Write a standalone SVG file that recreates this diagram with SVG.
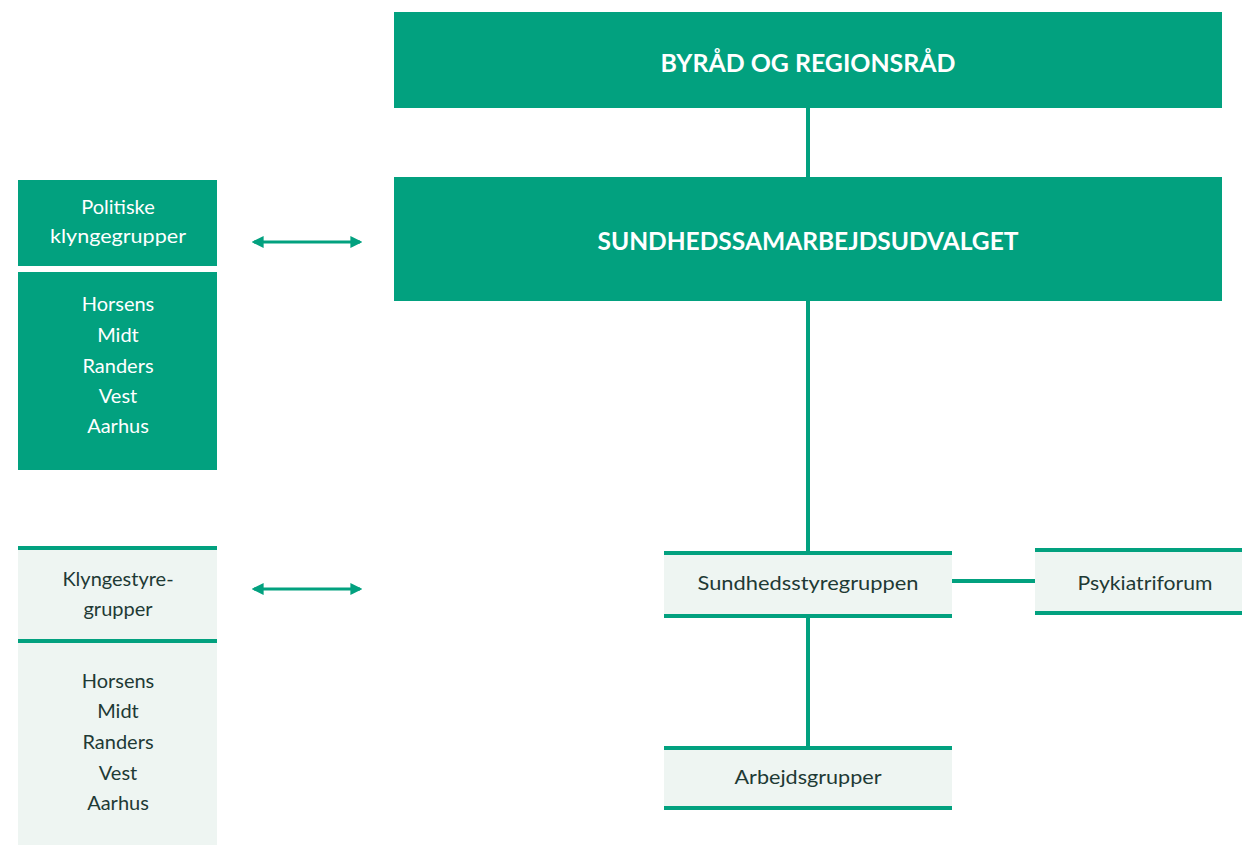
<svg xmlns="http://www.w3.org/2000/svg" width="1242" height="845" viewBox="0 0 1242 845">
<style>
.dark{fill:#02a17f}
.light{fill:#eef5f2}
.bar{fill:#02a17f}
.wt{fill:#ffffff;font-family:Lato,"Open Sans",sans-serif;text-anchor:middle}
.dt{fill:#1e3a35;font-family:Lato,"Open Sans",sans-serif;text-anchor:middle}
.title{font-size:25px;font-weight:bold}
.lbl{font-size:20px}
.conn{stroke:#02a17f;stroke-width:4;fill:none}
.arr{stroke:#02a17f;stroke-width:3;fill:none}
</style>
<defs>
<marker id="ah" viewBox="0 0 10 10" refX="8" refY="5" markerWidth="4" markerHeight="4" orient="auto-start-reverse">
<path d="M0,0 L10,5 L0,10 Z" fill="#02a17f"/>
</marker>
</defs>
<g id="connectors">
<line class="conn" x1="808" y1="108" x2="808" y2="177"/>
<line class="conn" x1="808" y1="301" x2="808" y2="553"/>
<line class="conn" x1="808" y1="616" x2="808" y2="748"/>
<line class="conn" x1="952" y1="581" x2="1035" y2="581"/>
<line class="arr" x1="254" y1="242" x2="360" y2="242" marker-start="url(#ah)" marker-end="url(#ah)"/>
<line class="arr" x1="254" y1="589" x2="360" y2="589" marker-start="url(#ah)" marker-end="url(#ah)"/>
</g>
<g id="byraad">
<rect class="dark" x="394" y="12" width="828" height="96"/>
<text class="wt title" x="808" y="72" textLength="295" lengthAdjust="spacingAndGlyphs">BYRÅD OG REGIONSRÅD</text>
</g>
<g id="sundhedssamarbejdsudvalget">
<rect class="dark" x="394" y="177" width="828" height="124"/>
<text class="wt title" x="808" y="250" textLength="421" lengthAdjust="spacingAndGlyphs">SUNDHEDSSAMARBEJDSUDVALGET</text>
</g>
<g id="politiske">
<rect class="dark" x="18" y="180" width="199" height="86"/>
<text class="wt lbl" x="118" y="214">Politiske</text>
<text class="wt lbl" x="118" y="243" textLength="136" lengthAdjust="spacingAndGlyphs">klyngegrupper</text>
</g>
<g id="politiske-list">
<rect class="dark" x="18" y="272" width="199" height="198"/>
<text class="wt lbl" x="118" y="311">Horsens</text>
<text class="wt lbl" x="118" y="342">Midt</text>
<text class="wt lbl" x="118" y="373">Randers</text>
<text class="wt lbl" x="118" y="403">Vest</text>
<text class="wt lbl" x="118" y="433">Aarhus</text>
</g>
<g id="klyngestyregrupper">
<rect class="light" x="18" y="547" width="199" height="298"/>
<rect class="bar" x="18" y="546" width="199" height="4"/>
<rect class="bar" x="18" y="639" width="199" height="4"/>
<text class="dt lbl" x="118" y="586">Klyngestyre-</text>
<text class="dt lbl" x="118" y="616">grupper</text>
<text class="dt lbl" x="118" y="688">Horsens</text>
<text class="dt lbl" x="118" y="718">Midt</text>
<text class="dt lbl" x="118" y="749">Randers</text>
<text class="dt lbl" x="118" y="780">Vest</text>
<text class="dt lbl" x="118" y="810">Aarhus</text>
</g>
<g id="sundhedsstyregruppen">
<rect class="light" x="664" y="553" width="288" height="63"/>
<rect class="bar" x="664" y="551" width="288" height="4"/>
<rect class="bar" x="664" y="614" width="288" height="4"/>
<text class="dt lbl" x="808" y="590" textLength="221" lengthAdjust="spacingAndGlyphs">Sundhedsstyregruppen</text>
</g>
<g id="psykiatriforum">
<rect class="light" x="1035" y="550" width="207" height="63"/>
<rect class="bar" x="1035" y="548" width="207" height="4"/>
<rect class="bar" x="1035" y="611" width="207" height="4"/>
<text class="dt lbl" x="1145" y="590" textLength="135" lengthAdjust="spacingAndGlyphs">Psykiatriforum</text>
</g>
<g id="arbejdsgrupper">
<rect class="light" x="664" y="748" width="288" height="60"/>
<rect class="bar" x="664" y="746" width="288" height="4"/>
<rect class="bar" x="664" y="806" width="288" height="4"/>
<text class="dt lbl" x="808" y="784" textLength="147" lengthAdjust="spacingAndGlyphs">Arbejdsgrupper</text>
</g>
</svg>
